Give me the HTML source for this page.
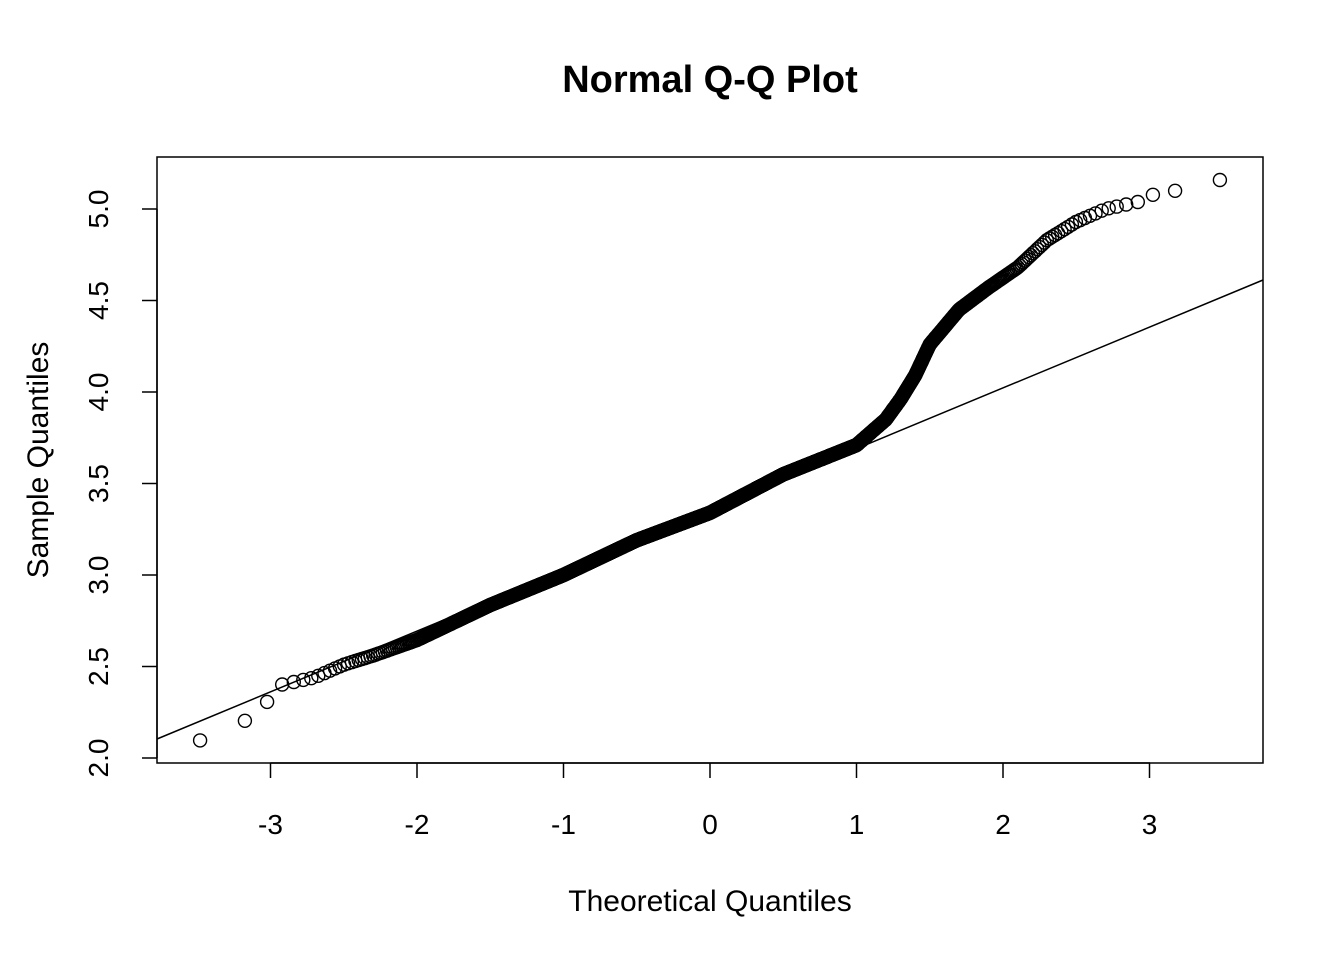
<!DOCTYPE html>
<html><head><meta charset="utf-8"><style>
html,body{margin:0;padding:0;background:#fff;}
svg{display:block;font-family:"Liberation Sans",Arial,sans-serif;}
</style></head><body>
<svg id="s" width="1344" height="960" viewBox="0 0 1344 960" xmlns="http://www.w3.org/2000/svg">
<text x="710" y="92" text-anchor="middle" font-size="38" font-weight="bold">Normal Q-Q Plot</text>
<rect x="157" y="157" width="1106" height="606" fill="none" stroke="#000" stroke-width="1.5"/>
<g stroke="#000" stroke-width="1.5">
<line x1="270.5" y1="763" x2="1150" y2="763"/>
<line x1="270.5" y1="763" x2="270.5" y2="778"/>
<line x1="417" y1="763" x2="417" y2="778"/>
<line x1="563.5" y1="763" x2="563.5" y2="778"/>
<line x1="710" y1="763" x2="710" y2="778"/>
<line x1="856.5" y1="763" x2="856.5" y2="778"/>
<line x1="1003" y1="763" x2="1003" y2="778"/>
<line x1="1149.5" y1="763" x2="1149.5" y2="778"/>
<line x1="157" y1="758" x2="157" y2="209"/>
<line x1="157" y1="758" x2="142" y2="758"/>
<line x1="157" y1="666.5" x2="142" y2="666.5"/>
<line x1="157" y1="575" x2="142" y2="575"/>
<line x1="157" y1="483.5" x2="142" y2="483.5"/>
<line x1="157" y1="392" x2="142" y2="392"/>
<line x1="157" y1="300.5" x2="142" y2="300.5"/>
<line x1="157" y1="209" x2="142" y2="209"/>
</g>
<g font-size="28" text-anchor="middle">
<text x="270.5" y="834">-3</text><text x="417" y="834">-2</text><text x="563.5" y="834">-1</text>
<text x="710" y="834">0</text><text x="856.5" y="834">1</text><text x="1003" y="834">2</text><text x="1149.5" y="834">3</text>
<text transform="translate(108,758) rotate(-90)">2.0</text>
<text transform="translate(108,666.5) rotate(-90)">2.5</text>
<text transform="translate(108,575) rotate(-90)">3.0</text>
<text transform="translate(108,483.5) rotate(-90)">3.5</text>
<text transform="translate(108,392) rotate(-90)">4.0</text>
<text transform="translate(108,300.5) rotate(-90)">4.5</text>
<text transform="translate(108,209) rotate(-90)">5.0</text>
</g>
<g font-size="30" text-anchor="middle">
<text x="710" y="911">Theoretical Quantiles</text>
<text transform="translate(48,460) rotate(-90)">Sample Quantiles</text>
</g>
<line x1="157" y1="739" x2="1263" y2="280" stroke="#000" stroke-width="1.5"/>
<g id="pts" fill="none" stroke="#000" stroke-width="1.4"></g>
</svg>
<script>
function qn(p){var a=[-39.69683028665376,220.9460984245205,-275.9285104469687,138.357751867269,-30.66479806614716,2.506628277459239],b=[-54.47609879822406,161.5858368580409,-155.6989798598866,66.80131188771972,-13.28068155288572],c=[-0.007784894002430293,-0.3223964580411365,-2.400758277161838,-2.549732539343734,4.374664141464968,2.938163982698783],d=[0.007784695709041462,0.3224671290700398,2.445134137142996,3.754408661907416],pl=0.02425,q,r;
if(p<pl){q=Math.sqrt(-2*Math.log(p));return(((((c[0]*q+c[1])*q+c[2])*q+c[3])*q+c[4])*q+c[5])/((((d[0]*q+d[1])*q+d[2])*q+d[3])*q+1);}
if(p>1-pl){q=Math.sqrt(-2*Math.log(1-p));return-(((((c[0]*q+c[1])*q+c[2])*q+c[3])*q+c[4])*q+c[5])/((((d[0]*q+d[1])*q+d[2])*q+d[3])*q+1);}
q=p-0.5;r=q*q;return(((((a[0]*r+a[1])*r+a[2])*r+a[3])*r+a[4])*r+a[5])*q/(((((b[0]*r+b[1])*r+b[2])*r+b[3])*r+b[4])*r+1);}
var K=[[-3.6,2.09],[-3.49,2.093],[-3.18,2.2],[-3.03,2.3],[-2.93,2.4],[-2.7,2.44],[-2.5,2.51],[-2.3,2.56],[-2,2.645],[-1.5,2.836],[-1,3.0],[-0.5,3.19],[0,3.34],[0.5,3.55],[1,3.71],[1.2,3.85],[1.3,3.96],[1.4,4.09],[1.5,4.26],[1.7,4.45],[1.9,4.57],[2.1,4.68],[2.3,4.83],[2.5,4.93],[2.7,5.0],[2.93,5.04],[3.03,5.08],[3.18,5.10],[3.49,5.16],[3.6,5.17]];
function f(q){for(var i=0;i<K.length-1;i++){if(q<=K[i+1][0]){var t=(q-K[i][0])/(K[i+1][0]-K[i][0]);return K[i][1]+t*(K[i+1][1]-K[i][1]);}}return K[K.length-1][1];}
var n=2000,g=document.getElementById('pts'),h='';
for(var i=1;i<=n;i++){var q=qn((i-0.5)/n),v=f(q);var x=710+146.5*q,y=758-(v-2)*183;h+='<circle cx="'+x.toFixed(1)+'" cy="'+y.toFixed(1)+'" r="6.5"/>';}
g.innerHTML=h;
</script>
</body></html>
